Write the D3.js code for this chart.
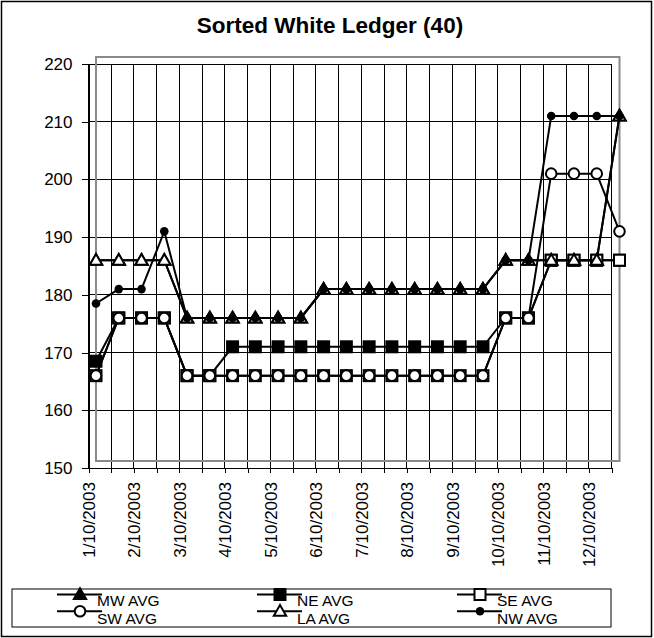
<!DOCTYPE html>
<html>
<head>
<meta charset="utf-8">
<script src="https://cdn.jsdelivr.net/npm/d3@7"></script>
<style>
  body { margin: 0; background: #fff; }
  text { font-family: "Liberation Sans", Arial, sans-serif; fill: #000; }
</style>
</head>
<body>
<svg id="chart" width="654" height="638"></svg>
<script>
// Valeurs (24 relevés, un label de date sur deux)
const monthLabels = ["1/10/2003", "2/10/2003", "3/10/2003", "4/10/2003", "5/10/2003", "6/10/2003",
                     "7/10/2003", "8/10/2003", "9/10/2003", "10/10/2003", "11/10/2003", "12/10/2003"];
const yTicks = [150, 160, 170, 180, 190, 200, 210, 220];

const mwAvg = [186, 186, 186, 186, 176, 176, 176, 176, 176, 176, 181, 181, 181, 181, 181, 181, 181, 181, 186, 186, 186, 186, 186, 211];
const neAvg = [168.5, 176, 176, 176, 166, 166, 171, 171, 171, 171, 171, 171, 171, 171, 171, 171, 171, 171, 176, 176, 186, 186, 186, 186];
const seAvg = [166, 176, 176, 176, 166, 166, 166, 166, 166, 166, 166, 166, 166, 166, 166, 166, 166, 166, 176, 176, 186, 186, 186, 186];
const swAvg = [166, 176, 176, 176, 166, 166, 166, 166, 166, 166, 166, 166, 166, 166, 166, 166, 166, 166, 176, 176, 201, 201, 201, 191];
const laAvg = [186, 186, 186, 186, 176, 176, 176, 176, 176, 176, 181, 181, 181, 181, 181, 181, 181, 181, 186, 186, 186, 186, 186, 211];
const nwAvg = [178.5, 181, 181, 191, 176, 176, 176, 176, 176, 176, 181, 181, 181, 181, 181, 181, 181, 181, 186, 186, 211, 211, 211, 211];

const series = [
  { name: "MW AVG", values: mwAvg, shape: "triFilled" },
  { name: "NE AVG", values: neAvg, shape: "sqFilled" },
  { name: "SE AVG", values: seAvg, shape: "sqOpen" },
  { name: "SW AVG", values: swAvg, shape: "circOpen" },
  { name: "LA AVG", values: laAvg, shape: "triOpen" },
  { name: "NW AVG", values: nwAvg, shape: "dot" }
];

const idx = d3.range(mwAvg.length);
const svg = d3.select("#chart");

// cadre extérieur
svg.append("rect").attr("x", 1.5).attr("y", 1.5).attr("width", 650).attr("height", 635)
  .attr("fill", "#fff").attr("stroke", "#000").attr("stroke-width", 1.5);

svg.append("text").attr("x", 330).attr("y", 33).attr("text-anchor", "middle")
  .style("font-size", "22.5px").style("font-weight", "bold").text("Sorted White Ledger (40)");

// échelles : la grille et les points sont décalés comme dans l'original
const xGrid = d3.scalePoint().domain(idx).range([88.5, 611.5]);
const xData = d3.scalePoint().domain(idx).range([96, 619.5]);
const y = d3.scaleLinear().domain([150, 220]).range([468, 64]);

const grid = svg.append("g").attr("shape-rendering", "crispEdges");
grid.selectAll(".vg").data(idx).enter().append("line")
  .attr("x1", d => xGrid(d)).attr("x2", d => xGrid(d))
  .attr("y1", y(220)).attr("y2", y(150))
  .attr("stroke", "#000").attr("stroke-width", 1);
grid.selectAll(".hg").data(yTicks).enter().append("line")
  .attr("x1", xGrid(0)).attr("x2", xGrid(idx.length - 1))
  .attr("y1", d => y(d)).attr("y2", d => y(d))
  .attr("stroke", "#000").attr("stroke-width", 1);

// cadre gris de la zone de tracé
svg.append("rect").attr("x", 96).attr("y", 57).attr("width", 523.5).attr("height", 404)
  .attr("fill", "none").attr("stroke", "#8a8a8a").attr("stroke-width", 2);

// axes
const yAxis = svg.append("g").attr("transform", "translate(88.5,0)")
  .call(d3.axisLeft(y).tickValues(yTicks).tickSize(7).tickPadding(9));
yAxis.selectAll("text").style("font-size", "17px");

const xAxis = svg.append("g").attr("transform", "translate(0,468)")
  .call(d3.axisBottom(xGrid).tickSize(5).tickFormat(d => d % 2 === 0 ? monthLabels[d / 2] : ""));
xAxis.selectAll("text")
  .style("font-size", "17px")
  .attr("text-anchor", "end")
  .attr("transform", "rotate(-90)")
  .attr("x", -14).attr("y", 0).attr("dy", "0.35em");
svg.selectAll(".domain, .tick line").attr("stroke", "#000").attr("stroke-width", 1)
  .attr("shape-rendering", "crispEdges");

// marqueurs
function drawMarker(g, shape, cx, cy) {
  if (shape === "triFilled" || shape === "triOpen") {
    g.append("path").attr("d", d3.symbol(d3.symbolTriangle, 66)())
      .attr("transform", `translate(${cx},${cy + 1})`)
      .attr("fill", shape === "triFilled" ? "#000" : "#fff")
      .attr("stroke", "#000").attr("stroke-width", 2);
  } else if (shape === "sqFilled" || shape === "sqOpen") {
    g.append("rect").attr("x", cx - 5.5).attr("y", cy - 5.5).attr("width", 11).attr("height", 11)
      .attr("fill", shape === "sqFilled" ? "#000" : "#fff")
      .attr("stroke", "#000").attr("stroke-width", 2);
  } else if (shape === "circOpen") {
    g.append("circle").attr("cx", cx).attr("cy", cy).attr("r", 5.3)
      .attr("fill", "#fff").attr("stroke", "#000").attr("stroke-width", 2);
  } else {
    g.append("circle").attr("cx", cx).attr("cy", cy).attr("r", 4.3).attr("fill", "#000");
  }
}

const line = d3.line().x((d, i) => xData(i)).y(d => y(d));

series.forEach(s => {
  const g = svg.append("g");
  g.append("path").datum(s.values).attr("d", line)
    .attr("fill", "none").attr("stroke", "#000").attr("stroke-width", 2);
  s.values.forEach((v, i) => drawMarker(g, s.shape, xData(i), y(v)));
});

// légende
svg.append("rect").attr("x", 12).attr("y", 589).attr("width", 599).attr("height", 38)
  .attr("fill", "none").attr("stroke", "#000").attr("stroke-width", 1);

const legendCols = [57, 257, 457];
series.forEach((s, k) => {
  const col = legendCols[k % 3];
  const row = Math.floor(k / 3);
  const ly = 594.5 + row * 16.7;
  const g = svg.append("g");
  g.append("line").attr("x1", col).attr("x2", col + 45).attr("y1", ly).attr("y2", ly)
    .attr("stroke", "#000").attr("stroke-width", 2);
  drawMarker(g, s.shape, col + 23, ly);
  g.append("text").attr("x", col + 40).attr("y", row === 0 ? 606 : 624.2)
    .style("font-size", "15.5px").text(s.name);
});
</script>
</body>
</html>
